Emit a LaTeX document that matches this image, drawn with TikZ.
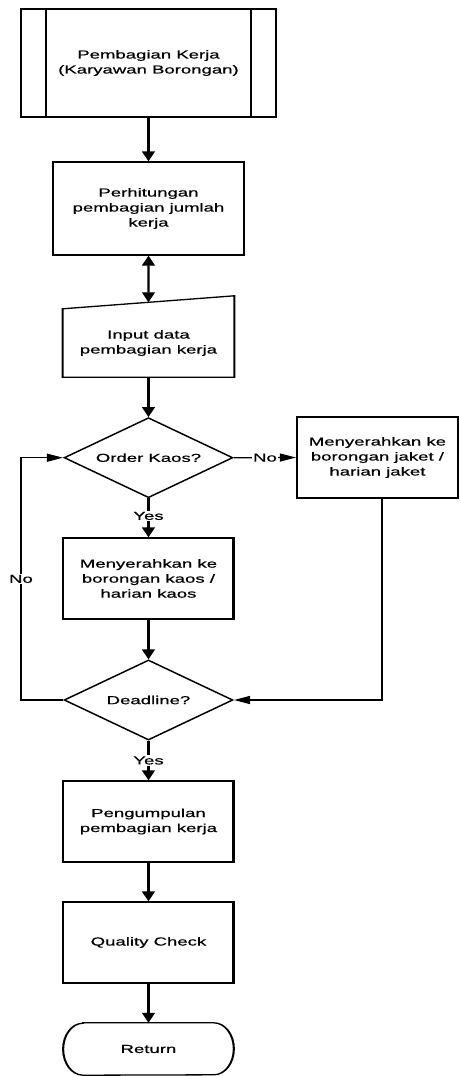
\documentclass[tikz,border=0pt]{standalone}
\usepackage{fontspec}
\setmainfont{Liberation Sans}[FakeBold=0.5]
\usetikzlibrary{arrows.meta,shapes.geometric,calc}
\begin{document}
\begin{tikzpicture}[x=1pt,y=-1pt,
  txt/.style={font=\fontsize{11.6pt}{15pt}\selectfont, align=center, inner sep=0pt},
  procbox/.style={txt, draw, line width=1.3pt, minimum width=106.3pt, minimum height=81pt},
  decision/.style={txt, draw, diamond, aspect=1.32, line width=1.3pt, minimum width=105.6pt, minimum height=80pt, inner sep=0pt},
  conn/.style={line width=1.3pt, -{Triangle[length=10pt,width=8pt]}},
  lbl/.style={txt, fill=white, inner sep=1pt}
]
\useasboundingbox (0,0) rectangle (459,1076);
\begin{scope}[transform canvas={xscale=1.6}]
% predefined process
\node[procbox, minimum width=159.4pt, minimum height=108pt] (pp) at (92.8,63) {Pembagian Kerja\\(Karyawan Borongan)};
\draw[line width=1.3pt] ([xshift=16.25pt]pp.north west) -- ([xshift=16.25pt]pp.south west);
\draw[line width=1.3pt] ([xshift=-16.25pt]pp.north east) -- ([xshift=-16.25pt]pp.south east);

\node[procbox, minimum width=119.4pt, minimum height=93pt] (b2) at (92.8,208.5) {Perhitungan\\pembagian jumlah\\kerja};

% manual input
\node[txt, minimum width=106.9pt, minimum height=68pt] (inp) at (92.8,343) {Input data\\pembagian kerja};
\draw[line width=1.3pt] (inp.south west) -- (inp.south east) -- ([yshift=13pt]inp.north east) -- (inp.north west) -- cycle;
\coordinate (inptop) at ($(inp.north west)!0.5!([yshift=13pt]inp.north east)$);

\node[decision] (d1) at (92.8,457.7) {Order Kaos?};
\node[procbox, minimum width=100.6pt] (rj) at (235.9,457.5) {Menyerahkan ke\\borongan jaket /\\harian jaket};
\node[procbox] (bk) at (92.8,578.5) {Menyerahkan ke\\borongan kaos /\\harian kaos};
\node[decision] (d2) at (92.8,700) {Deadline?};
\node[procbox] (pg) at (92.8,821.5) {Pengumpulan\\pembagian kerja};
\node[procbox] (qc) at (92.8,942.5) {Quality Check};
\node[txt, minimum width=106.3pt, minimum height=52pt] (ret) at (92.8,1049) {Return};
\draw[line width=1.3pt] ([xshift=12.5pt]ret.north west) -- ([xshift=-12.5pt]ret.north east)
  arc[start angle=90, end angle=-90, x radius=12.5pt, y radius=26pt]
  -- ([xshift=12.5pt]ret.south west)
  arc[start angle=270, end angle=90, x radius=12.5pt, y radius=26pt] -- cycle;

\coordinate (rjb) at ([xshift=2.8pt]rj.south);
\coordinate (loopl) at (13.1,700);
\coordinate (loopu) at (13.1,457.7);

\draw[conn] (pp.south) -- (b2.north);
\draw[line width=1.3pt, {Triangle[length=10pt,width=8pt]}-{Triangle[length=10pt,width=8pt]}] (b2.south) -- (inptop);
\draw[conn] (inp.south) -- (d1.north);
\draw[conn] (d1.east) -- node[lbl] {No} (rj.west);
\draw[conn] (d1.south) -- node[lbl, pos=0.45] {Yes} (bk.north);
\draw[conn] (bk.south) -- (d2.north);
\draw[conn] (rjb) |- (d2.east);
\draw[conn] (d2.west) -- (loopl) -- node[lbl] {No} (loopu) -- (d1.west);
\draw[conn] (d2.south) -- node[lbl] {Yes} (pg.north);
\draw[conn] (pg.south) -- (qc.north);
\draw[conn] (qc.south) -- (ret.north);
\end{scope}
\end{tikzpicture}
\end{document}
